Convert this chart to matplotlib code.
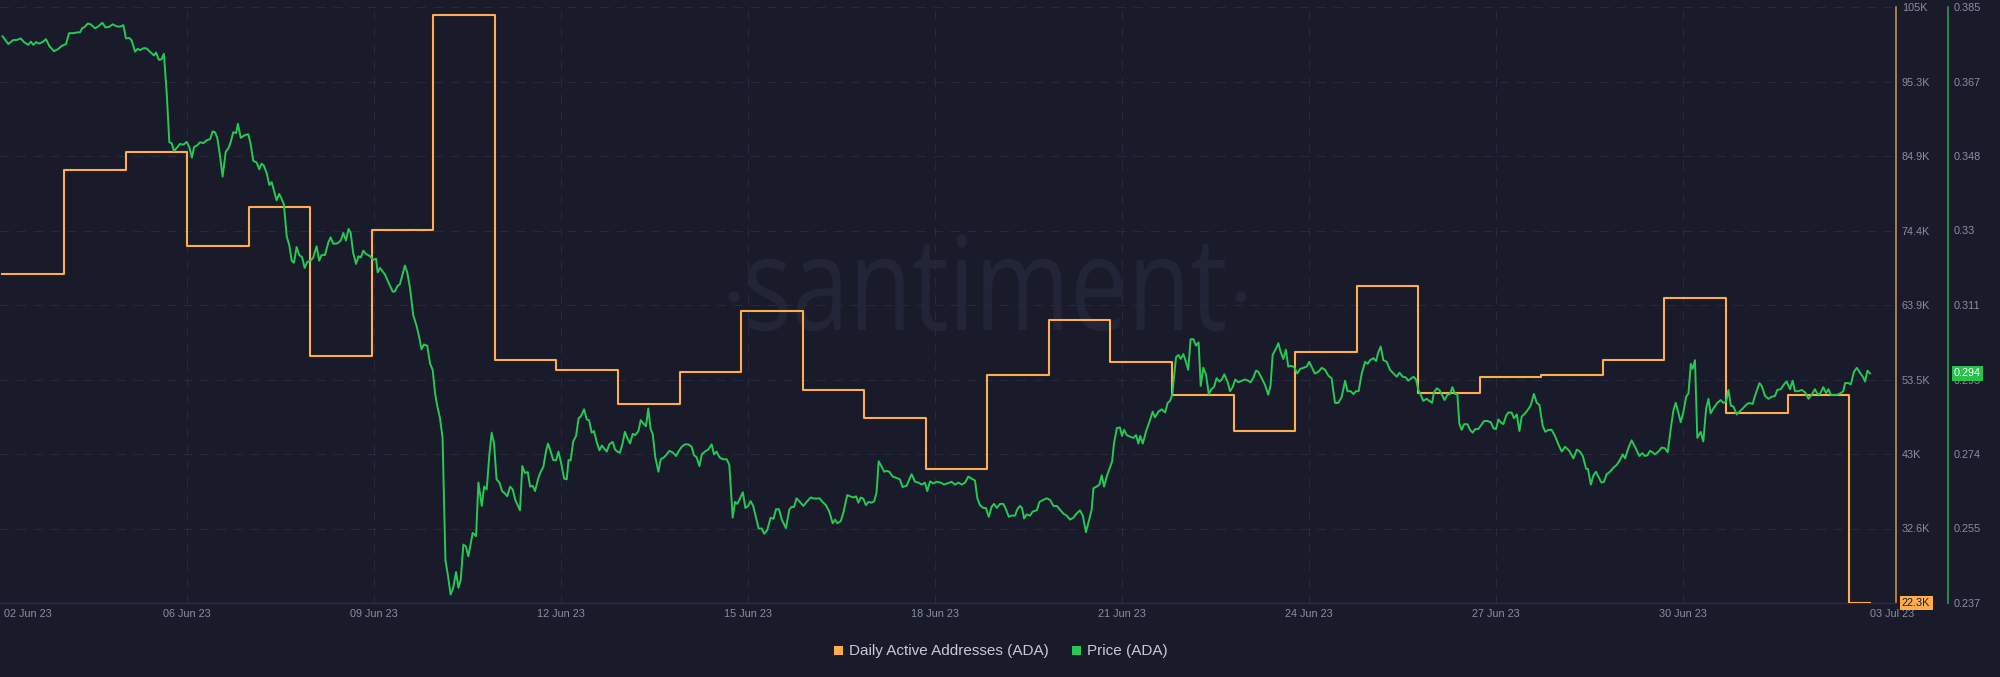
import numpy as np
import pandas as pd
import matplotlib
matplotlib.use("Agg")
import matplotlib.pyplot as plt
import matplotlib.dates as mdates
import matplotlib.transforms as mtransforms
from matplotlib.patches import Patch, PathPatch, Circle
from matplotlib.textpath import TextPath
from matplotlib.font_manager import FontProperties

plt.rcParams['font.family'] = ['Liberation Sans', 'DejaVu Sans']

# ---------------- data ----------------
daa_start = "2023-06-03 00:56"
daa_end = "2023-07-03 00:00"
daa_values = [68000, 82400, 84900, 71800, 77300, 56600, 74100, 103900, 56000, 54700,
              49900, 54300, 62800, 51800, 48000, 40900, 53900, 61500, 55700, 51100,
              46100, 57100, 66300, 51500, 53700, 54000, 56000, 64600, 48700, 51100,
              22300]

price_start = "2023-06-03 00:00"
price_hours = [
    1.0, 3.2, 5.1, 6.4, 8.0, 9.2, 10.9, 11.9, 12.8, 13.9,
    15.1, 16.4, 17.7, 19.0, 20.8, 22.5, 23.7, 25.4, 26.6, 28.2,
    29.8, 30.8, 31.6, 32.7, 33.8, 34.9, 36.6, 37.9, 39.4, 40.6,
    42.1, 43.4, 44.9, 46.2, 47.5, 48.5, 49.8, 50.7, 52.0, 53.0,
    53.9, 55.4, 56.5, 58.0, 59.3, 60.1, 61.1, 62.2, 63.1, 64.2,
    65.2, 66.1, 67.0, 68.0, 69.3, 70.6, 71.9, 72.9, 73.9, 74.7,
    76.0, 77.0, 78.3, 79.6, 80.9, 81.9, 82.8, 83.7, 84.7, 85.7,
    86.9, 88.0, 88.8, 89.8, 90.9, 91.6, 92.7, 94.3, 95.6, 96.5,
    97.5, 98.8, 99.8, 100.7, 101.6, 102.7, 103.7, 104.6, 105.5, 106.5,
    107.5, 108.4, 109.3, 110.4, 111.4, 112.3, 113.2, 114.2, 115.2, 116.3,
    117.3, 118.3, 119.6, 120.6, 121.9, 122.9, 123.8, 125.1, 126.4, 127.3,
    128.3, 129.9, 131.2, 132.2, 133.2, 134.2, 135.0, 136.0, 137.1, 138.0,
    138.9, 139.9, 140.9, 142.5, 143.7, 144.8, 145.4, 146.3, 148.2, 149.5,
    151.2, 152.1, 153.0, 154.0, 155.0, 155.9, 156.8, 157.9, 159.1, 160.4,
    161.5, 162.3, 163.2, 164.5, 165.6, 166.6, 167.5, 168.4, 169.4, 170.4,
    171.5, 172.5, 173.5, 174.5, 175.6, 176.5, 177.4, 178.4, 179.4, 180.3,
    182.0, 183.3, 184.2, 185.5, 186.4, 187.4, 188.4, 189.3, 190.2, 191.2,
    192.3, 193.3, 194.4, 195.3, 196.4, 197.4, 198.4, 199.3, 200.2, 201.1,
    202.1, 203.2, 204.1, 205.1, 206.0, 207.3, 208.2, 209.2, 210.2, 211.0,
    211.8, 213.0, 214.1, 215.0, 215.9, 217.2, 218.2, 218.9, 219.7, 220.7,
    221.8, 222.8, 223.6, 224.9, 225.9, 226.8, 227.8, 228.7, 229.7, 230.8,
    231.7, 232.6, 233.6, 234.6, 235.9, 236.8, 237.7, 238.7, 239.7, 240.6,
    241.5, 242.6, 243.6, 244.6, 245.8, 246.7, 247.7, 248.7, 249.6, 250.5,
    251.3, 252.3, 253.5, 254.4, 255.7, 256.7, 257.7, 259.0, 260.3, 261.2,
    262.5, 263.7, 265.0, 266.3, 267.2, 268.2, 269.3, 270.2, 271.4, 272.7,
    274.0, 274.9, 275.9, 277.0, 278.2, 279.8, 280.8, 282.1, 283.0, 283.9,
    284.9, 286.0, 287.0, 288.1, 289.0, 290.0, 291.1, 292.1, 293.3, 294.2,
    295.4, 296.7, 297.8, 298.8, 299.9, 301.0, 302.6, 303.9, 304.8, 305.7,
    306.7, 308.0, 309.3, 310.6, 312.1, 313.8, 315.5, 316.7, 318.0, 319.3,
    320.6, 321.5, 322.4, 323.7, 324.7, 326.2, 327.3, 328.6, 329.6, 330.5,
    331.4, 332.4, 333.4, 334.4, 335.6, 336.6, 337.5, 338.3, 339.5, 340.4,
    341.4, 342.4, 343.7, 345.0, 346.5, 347.5, 349.1, 350.1, 351.0, 352.3,
    353.6, 354.9, 356.1, 357.0, 358.1, 359.3, 360.6, 362.2, 363.5,
    366.4, 367.7, 369.0, 370.3, 371.6, 372.8, 374.1, 375.4, 376.3, 377.3,
    378.6, 379.6, 380.7, 381.8, 382.7, 383.8, 385.0, 386.3, 387.3, 388.4,
    389.5, 390.8, 391.7, 392.7, 393.5, 394.3, 395.3, 396.6, 397.6, 399.2,
    400.2, 401.7, 403.0, 404.3, 405.6, 406.9, 408.1, 409.4, 410.7, 412.0,
    413.3, 414.5, 415.8, 416.9, 418.1, 419.2, 420.3, 421.0, 422.2, 423.3,
    424.2, 425.1, 426.1, 427.4, 428.2, 428.9, 430.0, 431.2, 432.0, 432.8,
    433.8, 435.1, 436.4, 437.4, 438.3, 439.0, 440.0, 441.2, 442.5, 443.8,
    444.7, 446.0, 447.3, 448.6, 449.6, 450.5, 451.4, 452.0, 452.8, 453.7,
    454.6, 455.6, 456.6, 457.5, 458.4, 459.5, 460.5, 461.5, 462.3, 463.3,
    464.3, 465.4, 466.4, 467.4, 468.4, 469.5, 470.4, 471.4, 472.6, 473.6,
    474.6, 475.6, 476.8, 478.1, 479.4, 480.6, 481.5, 482.6, 483.6, 484.5,
    485.8, 487.1, 488.3, 489.2, 490.0, 491.3, 492.2, 493.1, 494.1, 495.1,
    496.0, 497.3, 498.4, 499.5, 500.5, 501.8, 503.1, 504.1, 505.2, 506.2,
    507.6, 508.9, 510.2, 511.4, 512.7, 514.0, 515.3, 516.6, 517.9, 518.8,
    520.0, 521.1, 522.1, 523.1, 524.3, 525.6, 526.6, 527.5, 528.8, 529.8,
    530.7, 531.6, 532.6, 533.9, 535.2, 536.5, 537.8, 538.8, 540.1, 541.3,
    542.2,
    544.2, 545.2, 546.1, 547.0, 548.0, 549.3, 550.3, 551.4, 552.1, 553.2,
    554.2, 555.2, 556.2, 557.3, 558.3, 559.2, 560.2, 561.1, 561.9, 562.8,
    563.7, 565.0, 566.0, 567.0, 568.0, 569.2, 570.5, 571.4, 572.7, 574.0,
    575.0, 576.0, 576.9, 577.8, 578.8, 579.9, 580.7, 582.0, 582.9, 584.0,
    585.0, 585.9, 587.2, 588.4, 589.3, 590.6, 591.7, 592.7, 594.0, 595.0,
    596.2, 597.4, 598.7, 600.0, 601.3, 602.6, 604.2, 605.8, 607.1, 608.3,
    609.4, 610.7, 611.4, 612.5, 613.5, 614.5, 615.4, 616.6, 617.6, 618.6,
    619.9, 621.2, 622.5, 623.7, 624.8, 625.7, 627.0, 628.2, 629.5, 631.2,
    632.3, 633.4, 634.3, 635.3, 636.3, 637.2, 638.5, 639.8, 641.1, 642.1,
    643.3, 644.3, 645.2, 646.2, 647.1, 648.1, 649.2, 650.1, 651.0, 651.7,
    652.6, 653.5, 654.8, 655.8, 656.9, 657.8, 658.6, 659.9, 661.2, 662.5,
    663.5, 664.6, 665.5, 666.4, 667.4, 668.7, 669.7, 671.0, 672.3, 673.5,
    674.8, 675.7, 677.4, 678.3, 679.6, 680.9, 682.1, 683.4, 684.3, 685.6,
    686.9, 687.9, 689.2, 690.2, 691.1, 692.4, 693.7, 695.0, 696.3, 697.5,
    698.8, 699.7, 700.7, 702.0, 703.1, 704.0, 704.9, 706.1, 707.4, 708.7,
    709.7, 710.4, 711.7, 712.6, 713.8, 714.9, 715.9, 717.2, 718.1, 719.0,
    720.0,
]
price_values = [
    0.3777, 0.3758, 0.3768, 0.3768, 0.3772, 0.3763, 0.3756, 0.3764, 0.3756, 0.3763,
    0.3759, 0.3763, 0.3770, 0.3753, 0.3740, 0.3746, 0.3753, 0.3758, 0.3785, 0.3785,
    0.3787, 0.3787, 0.3797, 0.3801, 0.3809, 0.3807, 0.3797, 0.3802, 0.3811, 0.3799,
    0.3801, 0.3807, 0.3802, 0.3801, 0.3805, 0.3772, 0.3773, 0.3767, 0.3739, 0.3746,
    0.3743, 0.3748, 0.3747, 0.3737, 0.3730, 0.3737, 0.3719, 0.3720, 0.3734, 0.3635,
    0.3514, 0.3512, 0.3492, 0.3500, 0.3510, 0.3508, 0.3515, 0.3502, 0.3476, 0.3502,
    0.3507, 0.3514, 0.3512, 0.3519, 0.3522, 0.3541, 0.3539, 0.3524, 0.3481, 0.3429,
    0.3490, 0.3500, 0.3514, 0.3539, 0.3537, 0.3560, 0.3525, 0.3532, 0.3534, 0.3510,
    0.3468, 0.3464, 0.3447, 0.3461, 0.3456, 0.3437, 0.3408, 0.3415, 0.3394, 0.3370,
    0.3386, 0.3374, 0.3360, 0.3280, 0.3258, 0.3220, 0.3215, 0.3254, 0.3234, 0.3229,
    0.3202, 0.3217, 0.3220, 0.3228, 0.3256, 0.3220, 0.3234, 0.3234, 0.3265, 0.3278,
    0.3262, 0.3263, 0.3270, 0.3289, 0.3270, 0.3299, 0.3290, 0.3239, 0.3212, 0.3231,
    0.3228, 0.3245, 0.3237, 0.3231, 0.3222, 0.3225, 0.3191, 0.3202, 0.3186, 0.3167,
    0.3143, 0.3144, 0.3157, 0.3162, 0.3186, 0.3208, 0.3191, 0.3150, 0.3085, 0.3058,
    0.3027, 0.3000, 0.3012, 0.3009, 0.2964, 0.2949, 0.2891, 0.2858, 0.2829, 0.2780,
    0.2476, 0.2437, 0.2391, 0.2408, 0.2447, 0.2408, 0.2428, 0.2515, 0.2510, 0.2486,
    0.2544, 0.2536, 0.2669, 0.2611, 0.2659, 0.2652, 0.2737, 0.2793, 0.2766, 0.2677,
    0.2669, 0.2648, 0.2642, 0.2635, 0.2659, 0.2652, 0.2626, 0.2613, 0.2600, 0.2710,
    0.2693, 0.2695, 0.2659, 0.2661, 0.2648, 0.2681, 0.2696, 0.2708, 0.2746, 0.2766,
    0.2751, 0.2725, 0.2724, 0.2746, 0.2722, 0.2679, 0.2677, 0.2725, 0.2724, 0.2771,
    0.2785, 0.2829, 0.2833, 0.2851, 0.2826, 0.2824, 0.2793, 0.2797, 0.2771, 0.2749,
    0.2761, 0.2754, 0.2746, 0.2764, 0.2770, 0.2751, 0.2746, 0.2743, 0.2766, 0.2795,
    0.2780, 0.2766, 0.2790, 0.2787, 0.2797, 0.2824, 0.2816, 0.2809, 0.2853, 0.2802,
    0.2790, 0.2732, 0.2696, 0.2727, 0.2732, 0.2739, 0.2748, 0.2744, 0.2735, 0.2746,
    0.2758, 0.2764, 0.2764, 0.2758, 0.2737, 0.2732, 0.2710, 0.2739, 0.2746, 0.2751,
    0.2764, 0.2739, 0.2746, 0.2732, 0.2727, 0.2727, 0.2713, 0.2582, 0.2621, 0.2616,
    0.2630, 0.2645, 0.2606, 0.2611, 0.2623, 0.2611, 0.2582, 0.2555, 0.2555, 0.2542,
    0.2551, 0.2582, 0.2579, 0.2603, 0.2603, 0.2577, 0.2556, 0.2602, 0.2609, 0.2608,
    0.2630, 0.2621, 0.2611, 0.2621, 0.2632, 0.2629, 0.2630, 0.2621, 0.2613, 0.2597,
    0.2568, 0.2577, 0.2568, 0.2573, 0.2594, 0.2638, 0.2635, 0.2632, 0.2635, 0.2619,
    0.2632, 0.2629, 0.2613, 0.2621, 0.2619, 0.2623, 0.2645, 0.2722, 0.2708, 0.2696,
    0.2698, 0.2696, 0.2684, 0.2681, 0.2677, 0.2658, 0.2661, 0.2677, 0.2690, 0.2671,
    0.2669, 0.2664, 0.2669, 0.2648, 0.2672, 0.2667, 0.2671, 0.2669, 0.2664,
    0.2671, 0.2664, 0.2669, 0.2664, 0.2669, 0.2684, 0.2679, 0.2674, 0.2630, 0.2613,
    0.2606, 0.2606, 0.2584, 0.2609, 0.2616, 0.2606, 0.2616, 0.2616, 0.2603, 0.2584,
    0.2587, 0.2587, 0.2603, 0.2611, 0.2606, 0.2580, 0.2590, 0.2587, 0.2597, 0.2600,
    0.2621, 0.2626, 0.2630, 0.2626, 0.2611, 0.2611, 0.2602, 0.2592, 0.2587, 0.2577,
    0.2582, 0.2592, 0.2600, 0.2587, 0.2546, 0.2573, 0.2602, 0.2655, 0.2659, 0.2664,
    0.2687, 0.2659, 0.2684, 0.2708, 0.2722, 0.2766, 0.2804, 0.2806, 0.2785, 0.2800,
    0.2787, 0.2783, 0.2780, 0.2787, 0.2766, 0.2785, 0.2766, 0.2795, 0.2819, 0.2845,
    0.2831, 0.2845, 0.2851, 0.2843, 0.2867, 0.2872, 0.2889, 0.2930, 0.2980, 0.2986,
    0.2976, 0.2988, 0.2969, 0.2949, 0.3025, 0.3025, 0.3009, 0.3017, 0.2909, 0.2954,
    0.2938, 0.2889, 0.2901, 0.2906, 0.2928, 0.2920, 0.2925, 0.2938, 0.2920, 0.2896,
    0.2906, 0.2925, 0.2918, 0.2922, 0.2925, 0.2922, 0.2918, 0.2930, 0.2947, 0.2944,
    0.2928, 0.2911, 0.2887, 0.2911, 0.2986, 0.3002, 0.3015, 0.2993, 0.2976, 0.2999,
    0.2957, 0.2959, 0.2954, 0.2940, 0.2951, 0.2954, 0.2957, 0.2969, 0.2954, 0.2940,
    0.2944, 0.2954, 0.2949, 0.2935, 0.2928, 0.2867, 0.2867, 0.2882, 0.2922, 0.2896,
    0.2896, 0.2889, 0.2896, 0.2896, 0.2940, 0.2969, 0.2964, 0.2973, 0.2978, 0.2971,
    0.2993, 0.3007, 0.2973, 0.2969, 0.2949, 0.2940, 0.2932, 0.2942, 0.2932, 0.2930,
    0.2922,
    0.2932, 0.2925, 0.2899, 0.2887, 0.2872, 0.2877, 0.2872, 0.2867, 0.2893, 0.2903,
    0.2899, 0.2887, 0.2874, 0.2887, 0.2889, 0.2906, 0.2889, 0.2889, 0.2814, 0.2800,
    0.2814, 0.2814, 0.2800, 0.2793, 0.2802, 0.2802, 0.2814, 0.2822, 0.2822, 0.2819,
    0.2804, 0.2802, 0.2826, 0.2819, 0.2814, 0.2835, 0.2843, 0.2843, 0.2829, 0.2838,
    0.2797, 0.2833, 0.2841, 0.2851, 0.2860, 0.2889, 0.2867, 0.2862, 0.2809, 0.2795,
    0.2800, 0.2800, 0.2785, 0.2764, 0.2746, 0.2758, 0.2748, 0.2729, 0.2751, 0.2746,
    0.2735, 0.2703, 0.2703, 0.2664, 0.2687, 0.2696, 0.2684, 0.2669, 0.2671, 0.2690,
    0.2696, 0.2706, 0.2713, 0.2725, 0.2739, 0.2729, 0.2756, 0.2774, 0.2758, 0.2735,
    0.2742, 0.2735, 0.2737, 0.2748, 0.2744, 0.2739, 0.2746, 0.2756, 0.2754, 0.2744,
    0.2804, 0.2848, 0.2867, 0.2843, 0.2819, 0.2843, 0.2882, 0.2891, 0.2964, 0.2951,
    0.2973, 0.2780, 0.2795, 0.2771, 0.2853, 0.2877, 0.2841, 0.2855, 0.2867, 0.2874,
    0.2867, 0.2870, 0.2899, 0.2860, 0.2858, 0.2838, 0.2845, 0.2853, 0.2862, 0.2867,
    0.2864, 0.2884, 0.2916, 0.2909, 0.2884, 0.2877, 0.2882, 0.2884, 0.2899, 0.2901,
    0.2913, 0.2920, 0.2901, 0.2922, 0.2896, 0.2896, 0.2899, 0.2893, 0.2877, 0.2887,
    0.2901, 0.2889, 0.2889, 0.2906, 0.2891, 0.2901, 0.2887, 0.2887, 0.2887, 0.2891,
    0.2896, 0.2916, 0.2916, 0.2913, 0.2944, 0.2954, 0.2944, 0.2932, 0.2920, 0.2947,
    0.2940,
]
assert len(price_hours) == len(price_values), (len(price_hours), len(price_values))

daa_range = (22300, 105000)
daa_tick_labels = ["22.3K", "32.6K", "43K", "53.5K", "63.9K", "74.4K", "84.9K", "95.3K", "105K"]
price_range = (0.237, 0.385)
price_tick_labels = ["0.237", "0.255", "0.274", "0.293", "0.311", "0.33", "0.348", "0.367", "0.385"]
date_ticks = ["2023-06-06", "2023-06-09", "2023-06-12", "2023-06-15", "2023-06-18",
              "2023-06-21", "2023-06-24", "2023-06-27", "2023-06-30"]
first_label = "02 Jun 23"
last_label = "03 Jul 23"
x_range = ("2023-06-03 00:00", "2023-07-03 10:00")

# ---------------- style ----------------
BG = '#191b2b'
GRID = '#272a3d'
TXT = '#8a8ea1'
ORANGE = '#ffad4d'
GREEN = '#26c953'
W, H = 2000, 677

fig = plt.figure(figsize=(20, 6.77), dpi=100, facecolor=BG)
ax = fig.add_axes([0, 1 - 603 / H, 1896 / W, 596 / H])
ax.set_facecolor('none')
ax2 = ax.twinx()
ax2.set_facecolor('none')

# watermark
wm_color = '#222537'
fp = FontProperties(family='Open Sans', weight='normal')
tp = TextPath((0, 0), "santiment", size=100, prop=fp)
ext = tp.get_extents()
xh = TextPath((0, 0), "x", size=100, prop=fp).get_extents().height
sx = 477 / ext.width
sy = 70 / xh
wm_tr = mtransforms.Affine2D().translate(-ext.x0, 0).scale(sx, sy).translate(748, H - 330)
fig.add_artist(PathPatch(tp, transform=wm_tr, facecolor=wm_color, edgecolor='none', zorder=-5))
for cx in (734, 1241):
    fig.add_artist(Circle((cx, H - 297), 5.5, transform=mtransforms.IdentityTransform(),
                          facecolor=wm_color, edgecolor='none', zorder=-5))

# DAA step line
daa_times = list(pd.date_range(daa_start, periods=len(daa_values), freq='1422min')) + [pd.Timestamp(daa_end)]
daa_plot_vals = daa_values + [daa_values[-1]]
ax.plot(mdates.date2num(pd.DatetimeIndex(daa_times).to_pydatetime()), daa_plot_vals,
        drawstyle='steps-post', color=ORANGE, lw=1.5, zorder=3)

# price line
p_times = pd.Timestamp(price_start) + pd.to_timedelta(price_hours, unit='h')
ax2.plot(mdates.date2num(p_times.to_pydatetime()), price_values, color=GREEN, lw=1.4, zorder=3)

x0 = mdates.date2num(pd.Timestamp(x_range[0]).to_pydatetime())
x1 = mdates.date2num(pd.Timestamp(x_range[1]).to_pydatetime())
ax.set_xlim(x0, x1)
ax.set_ylim(*daa_range)
ax2.set_ylim(*price_range)

# ticks
ax.yaxis.tick_right()
ax.set_yticks(np.linspace(daa_range[0], daa_range[1], len(daa_tick_labels)))
ax.set_yticklabels(daa_tick_labels)
ax2.set_yticks(np.linspace(price_range[0], price_range[1], len(price_tick_labels)))
ax2.set_yticklabels(price_tick_labels)
xt = [mdates.date2num(pd.Timestamp(d).to_pydatetime()) for d in date_ticks]
ax.set_xticks(xt)
ax.set_xticklabels([pd.Timestamp(d).strftime('%d %b %y') for d in date_ticks])

ax.tick_params(axis='y', length=0, pad=4.3, labelsize=7.8, labelcolor=TXT)
ax2.tick_params(axis='y', length=0, pad=4.3, labelsize=7.8, labelcolor=TXT)
ax.tick_params(axis='x', length=0, pad=4.0, labelsize=7.8, labelcolor=TXT)

ax.grid(True, color=GRID, lw=0.8, linestyle=(0, (8, 7)))
ax2.grid(False)

for s in ('left', 'top'):
    ax.spines[s].set_visible(False)
for s in ('left', 'top', 'bottom'):
    ax2.spines[s].set_visible(False)
ax.spines['bottom'].set_color('#2a2d40')
ax.spines['bottom'].set_linewidth(1.0)
ax.spines['right'].set_color('#c98b43')
ax.spines['right'].set_linewidth(1.2)
ax2.spines['right'].set_position(('outward', 52 * 0.72))
ax2.spines['right'].set_color('#2b9f47')
ax2.spines['right'].set_linewidth(1.2)

# edge date labels
ax.annotate(first_label, xy=(0, 0), xycoords='axes fraction', xytext=(3.2, -4.0),
            textcoords='offset points', ha='left', va='top', fontsize=7.8, color=TXT)
ax.annotate(last_label, xy=(mdates.date2num(pd.Timestamp(daa_end).to_pydatetime()), 0),
            xycoords=('data', 'axes fraction'), xytext=(0, -4.0),
            textcoords='offset points', ha='left', va='top', fontsize=7.8, color=TXT,
            annotation_clip=False)

# last-value badges
ax.annotate(f"{daa_values[-1] / 1000:.1f}K", xy=(1, daa_values[-1]),
            xycoords=('axes fraction', 'data'), xytext=(4.3, 0), textcoords='offset points',
            ha='left', va='center', fontsize=7.8, color='#1a1c2c', annotation_clip=False,
            bbox=dict(boxstyle='square,pad=0.22', fc=ORANGE, ec='none'), zorder=10)
ax2.annotate(f"{price_values[-1]:.3f}", xy=(1, price_values[-1]),
             xycoords=('axes fraction', 'data'), xytext=(52 * 0.72 + 4.3, 0),
             textcoords='offset points', ha='left', va='center', fontsize=7.8, color='white',
             annotation_clip=False,
             bbox=dict(boxstyle='square,pad=0.22', fc='#27c24c', ec='none'), zorder=10)

# legend
handles = [Patch(facecolor=ORANGE, edgecolor='#0e101b', lw=0.6, label='Daily Active Addresses (ADA)'),
           Patch(facecolor=GREEN, edgecolor='#0e101b', lw=0.6, label='Price (ADA)')]
fig.legend(handles=handles, loc='center', bbox_to_anchor=(0.5, 1 - 651 / H), ncol=2,
           frameon=False, fontsize=11, labelcolor='#c8cad4', handlelength=0.65,
           handleheight=0.65, handletextpad=0.4, columnspacing=1.45, borderaxespad=0)

fig.savefig('out.png', dpi=100, facecolor=BG)
